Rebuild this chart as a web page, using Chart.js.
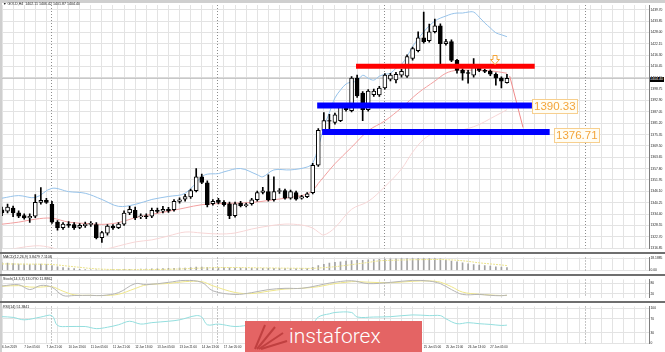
<!DOCTYPE html>
<html>
<head>
<meta charset="utf-8">
<script src="https://cdn.jsdelivr.net/npm/chart.js@4.4.0/dist/chart.umd.min.js"></script>
<style>
body{margin:0;width:665px;height:352px;background:#fff;position:relative;overflow:hidden;font-family:"Liberation Sans",Arial,sans-serif}
canvas{position:absolute;left:0}
.bar{position:absolute;background:#6f6f6f}
.txt{position:absolute;white-space:nowrap;color:#222;font-size:3.6px;line-height:4px}
.lvl{position:absolute;color:#f3a53a;background:#fffdf4;border:1px solid #f7cf8e;font-size:11.5px;line-height:13px;padding:0 1px}
</style>
</head>
<body>
<div class="bar" style="left:0;top:0;width:665px;height:3px;background:#cfcfcf"></div>
<div class="bar" style="left:0;top:0;width:2px;height:352px;background:#cfcfcf"></div>
<canvas id="main" width="665" height="252" style="top:0"></canvas>
<div class="bar" style="left:0;top:252px;width:665px;height:2px"></div>
<canvas id="macd" width="665" height="20" style="top:254px"></canvas>
<div class="bar" style="left:0;top:274px;width:665px;height:2px"></div>
<canvas id="stoch" width="665" height="25" style="top:276px"></canvas>
<div class="bar" style="left:0;top:301px;width:665px;height:2px"></div>
<canvas id="rsi" width="665" height="49" style="top:303px"></canvas>

<div class="txt" style="left:3px;top:2px">&#9660; GOLD,H4 &nbsp;1402.11 1406.42 1401.87 1404.40</div>
<div class="txt" style="left:3px;top:255px">MACD(12,26,9) 3.8479 7.1108</div>
<div class="txt" style="left:3px;top:277px">Stoch(14,3,3) 13.0790 11.8862</div>
<div class="txt" style="left:3px;top:305px">RSI(14) 51.3841</div>
<div class="txt" style="left:650px;top:77px;width:14px;height:5px;background:#000;color:#fff;line-height:5px">1404.40</div>

<div class="lvl" style="left:532px;top:99px">1390.33</div>
<div class="lvl" style="left:554px;top:128px">1376.71</div>
<svg width="10" height="10" style="position:absolute;left:490px;top:55px">
  <path d="M3 0.5 H7 V4.5 H9.5 L5 9.5 L0.5 4.5 H3 Z" fill="#fff" stroke="#f3a53a" stroke-width="1"/>
</svg>

<div style="position:absolute;left:245px;top:321px;width:177px;height:31px;background:#e46464">
  <svg width="40" height="31" style="position:absolute;left:6px;top:0">
    <g stroke="#c04040" stroke-width="2">
      <line x1="4" y1="28" x2="14" y2="4"/><line x1="6" y1="28" x2="24" y2="6"/><line x1="8" y1="28" x2="32" y2="12"/><line x1="10" y1="28" x2="36" y2="20"/>
    </g>
  </svg>
  <div style="position:absolute;left:44px;top:2px;color:#fff;font-family:Roboto,'Open Sans',sans-serif;font-weight:300;font-size:21px;line-height:26px">instaforex</div>
</div>

<script>
// GOLD H4, 6 Jun 2019 13:00 -> 27 Jun 2019 (bar index 0..91)
const opens  = [1336.5,1335.8,1337.5,1335.0,1333.6,1332.4,1333.3,1340.4,1341.4,1339.4,1330.2,1327.3,1329.2,1329.0,1327.5,1328.4,1329.0,1329.0,1322.2,1324.5,1328.2,1327.3,1329.2,1334.9,1336.3,1333.0,1333.4,1333.3,1336.3,1335.8,1336.8,1336.6,1340.9,1342.0,1343.2,1346.5,1353.6,1350.5,1339.7,1341.4,1340.4,1339.7,1333.6,1340.0,1338.7,1339.7,1341.75,1345.5,1346.0,1341.75,1346.0,1346.5,1342.6,1345.5,1342.6,1343.4,1345.45,1359.55,1377.5,1382.6,1381.6,1382.6,1390.2,1387.7,1404.45,1396.8,1388.2,1396.0,1395.8,1399.4,1404.0,1403.5,1406.0,1405.5,1414.6,1418.7,1425.3,1423.8,1428.4,1431.4,1422.3,1423.3,1413.6,1408.5,1407.4,1406.0,1410.55,1408.5,1408.0,1406.5,1404.45,1402.11];
const highs  = [1338.0,1339.5,1338.5,1336.0,1334.5,1334.5,1344.4,1348.0,1342.5,1341.0,1331.0,1330.0,1330.5,1330.0,1329.5,1330.3,1330.5,1330.0,1325.5,1329.0,1329.0,1330.0,1336.0,1338.3,1338.0,1334.5,1334.5,1337.5,1337.5,1338.3,1337.8,1341.8,1342.8,1344.5,1347.3,1357.8,1355.0,1351.5,1341.8,1342.5,1341.3,1340.5,1340.5,1341.0,1340.0,1342.5,1346.2,1348.1,1354.6,1353.6,1347.5,1347.2,1346.8,1346.2,1344.0,1345.5,1360.5,1378.5,1386.7,1385.8,1386.5,1391.0,1391.0,1405.3,1406.1,1397.5,1398.6,1398.8,1400.3,1406.8,1407.0,1407.5,1409.0,1416.5,1420.5,1428.4,1438.5,1432.4,1435.0,1432.5,1424.5,1424.2,1414.2,1409.3,1408.5,1414.6,1411.3,1409.0,1408.8,1407.2,1405.2,1406.42];
const lows   = [1333.5,1335.0,1333.0,1332.5,1331.8,1330.0,1332.5,1339.5,1339.8,1329.5,1326.0,1326.5,1327.5,1326.5,1326.8,1327.5,1328.0,1321.5,1319.7,1323.5,1326.5,1326.8,1328.5,1334.0,1331.5,1332.0,1332.0,1332.5,1335.0,1335.0,1335.2,1335.8,1340.0,1341.0,1342.5,1345.8,1350.0,1338.0,1339.0,1339.6,1338.5,1332.0,1332.8,1338.0,1338.0,1339.0,1341.0,1344.8,1341.0,1341.0,1345.0,1342.0,1342.0,1341.5,1342.0,1342.8,1344.8,1359.0,1376.5,1378.2,1380.8,1382.0,1387.5,1387.0,1394.5,1382.6,1387.5,1395.0,1395.0,1398.8,1403.0,1402.0,1405.0,1404.8,1413.8,1418.0,1422.5,1423.0,1427.8,1410.6,1421.5,1413.0,1407.0,1403.4,1401.9,1405.0,1407.8,1407.3,1405.8,1400.9,1399.4,1401.87];
const closes = [1335.0,1338.0,1335.0,1333.3,1332.4,1333.2,1340.4,1341.5,1340.4,1330.2,1327.3,1329.2,1328.5,1327.3,1328.5,1329.2,1329.6,1322.2,1324.8,1328.2,1327.2,1329.2,1334.9,1336.8,1332.4,1333.4,1333.0,1336.3,1335.7,1336.8,1336.0,1340.9,1341.7,1343.4,1346.5,1353.6,1350.7,1339.2,1340.9,1340.4,1339.2,1333.6,1339.7,1338.7,1339.2,1341.75,1345.45,1346.3,1341.75,1346.0,1346.5,1342.6,1346.0,1342.1,1343.4,1344.8,1359.55,1377.5,1382.6,1382.3,1385.6,1390.2,1388.2,1404.45,1395.3,1388.2,1397.85,1397.85,1399.4,1406.0,1406.0,1406.5,1408.0,1415.65,1419.7,1425.3,1423.3,1428.4,1431.4,1422.25,1423.3,1413.6,1408.5,1407.0,1406.9,1410.55,1408.5,1408.0,1406.5,1404.45,1402.9,1404.40];

// Bollinger bands (20,2)
const bbUpperX = [0,3,6,9,12,15,18,21,24,27,30,33,36,37,39,40,43,46,47,49,52,55,56,57,58,59,60,61,62,63,64,65,66,67,68,69,70,71,72,73,74,75,76,77,78,79,80,81,82,83,84,85,86,87,88,89,90,91];
const bbUpper  = [1342.55,1343.9,1342.9,1347.65,1345.95,1345.1,1341.9,1338.35,1339.35,1341.9,1343.45,1345.1,1353.6,1354.95,1355.25,1356.15,1357.85,1354.65,1353.6,1357.15,1357.15,1358.65,1360.75,1368.85,1379.05,1386.65,1394.25,1398.35,1401.45,1402.45,1402.95,1405.95,1404.45,1403.45,1405.45,1406.45,1407.0,1409.55,1411.55,1415.65,1420.75,1424.8,1428.35,1431.45,1433.95,1435.45,1436.5,1437.55,1438.05,1438.05,1438.55,1438.55,1435.95,1432.95,1430.4,1427.85,1426.85,1425.85];
const bbMidX   = [0,3,6,9,12,15,18,21,24,27,30,33,36,39,42,45,48,51,54,55,56,57,58,60,63,66,69,72,75,78,80,82,85,88,91];
const bbMid    = [1329.15,1330.2,1331.75,1332.25,1330.2,1329.55,1329.05,1329.95,1332.5,1334.25,1335.8,1337.55,1339.2,1339.75,1340.0,1340.35,1341.35,1342.55,1343.95,1344.8,1346.45,1350.15,1353.6,1360.35,1368.85,1377.35,1382.45,1389.2,1396.85,1402.95,1407.0,1408.55,1408.55,1408.3,1407.0];
const bbLowerX = [0,6,9,12,18,24,27,30,33,36,39,42,45,48,51,54,56,57,58,60,63,66,69,72,74,76,78,80,82,84,86,88,90,91];
const bbLower  = [1315.45,1318.0,1317.0,1314.4,1315.95,1320.0,1321.05,1323.1,1325.1,1324.6,1324.1,1324.6,1326.65,1328.2,1329.2,1328.7,1327.15,1325.1,1323.6,1327.35,1336.85,1340.9,1348.5,1357.65,1366.3,1372.95,1376.45,1378.05,1377.5,1378.5,1380.55,1383.6,1386.65,1388.2];

// drawn levels: price, first bar, last bar
const levelPrice = [1410.55, 1390.33, 1376.71];
const levelFrom  = [63.8, 56.8, 57.7];
const levelTo    = [96.0, 95.5, 98.7];
const levelColor = ['#ff0000', '#0000ff', '#0000ff'];
const levelWidth = [5, 6, 6];
const trendX = [91.5, 93.9];
const trendY = [1405.5, 1379.0];
const lastPrice = 1404.40;

// MACD(12,26,9)
const macdMain = [11.2,10.8,10.0,9.5,9.2,8.7,9.2,9.2,8.7,7.0,5.4,4.2,3.2,2.6,1.6,1.0,0.8,0.6,0.5,0.6,0.7,0.8,1.0,1.3,1.6,1.8,2.0,2.2,2.4,2.6,2.8,3.0,3.2,3.4,4.2,4.8,5.0,4.6,4.4,4.2,4.0,3.6,3.4,3.2,3.0,3.0,3.1,3.1,3.0,3.0,3.0,2.8,2.8,2.6,2.5,2.6,4.5,7.0,9.0,11.0,11.8,12.8,13.8,14.4,15.0,15.0,15.7,16.0,16.3,16.6,17.0,17.3,17.4,17.5,17.6,17.6,17.6,17.6,17.6,17.0,15.0,13.8,12.8,11.2,9.6,8.6,7.7,7.0,6.4,5.4,4.8,4.2];
const macdSigX = [0,4,8,10,12,14,16,18,20,24,28,32,36,40,44,48,52,56,58,60,62,64,66,68,70,72,74,76,78,80,82,84,86,88,90,91];
const macdSig  = [9.6,9.3,9.0,8.0,6.2,4.5,2.8,1.8,1.2,1.0,1.3,2.0,3.4,4.2,4.0,3.5,3.2,3.0,4.0,5.4,7.4,9.6,11.8,14.2,14.9,15.4,15.8,16.0,16.2,15.9,15.0,13.4,11.2,9.6,8.0,7.1];

// Stochastic(14,3,3)
const stochX   = [0,3,5,7,9,11,13,16,18,21,24,26,30,33,36,38,42,45,48,51,54,57,59,63,66,70,74,77,79,81,83,86,88,90,91];
const stochK   = [64,71,44,67,57,11,11,12,11,27,77,71,84,95,84,37,17,27,44,51,51,67,80,93,77,84,95,91,77,44,17,17,12,10,13];
const stochD   = [62,66,58,58,60,35,15,12,11,18,50,70,78,88,88,65,28,22,35,47,51,60,72,88,85,82,90,92,85,60,30,18,14,11,12];

// RSI(14)
const rsiX = [0,2,4,7,9,10,12,15,17,19,21,23,25,27,30,32,35,36,37,39,42,45,48,51,54,56,57,58,59,60,63,64,67,70,74,77,79,80,82,84,86,88,90,91];
const rsiV = [76,74,67,75,79,51,48,48,42,46,53,63,55,59,63,67,79,75,53,55,48,53,56,55,53,58,75,81,84,88,88,75,75,76,81,79,79,70,56,59,56,54,51,52];

const priceTicks = [1316.85,1322.70,1328.55,1334.40,1340.25,1346.10,1351.95,1357.80,1363.65,1369.50,1375.35,1381.20,1387.05,1392.90,1398.75,1404.60,1410.45,1416.30,1422.15,1428.00,1433.85,1439.70];
const timeLabels = ['6 Jun 2019','7 Jun 05:00','7 Jun 21:00','10 Jun 13:00','11 Jun 05:00','11 Jun 21:00','12 Jun 13:00','13 Jun 05:00','13 Jun 21:00','14 Jun 13:00','17 Jun 05:00','17 Jun 21:00','18 Jun 13:00','19 Jun 05:00','19 Jun 21:00','20 Jun 13:00','21 Jun 05:00','21 Jun 21:00','24 Jun 13:00','25 Jun 05:00','25 Jun 21:00','26 Jun 13:00','27 Jun 05:00'];
const weekStarts = [8.8, 38.8, 68.8, 105];

const X_MIN = 0, X_MAX = 116.6;
const GRID = '#e3e3e3';
const FONT = 'Liberation Sans';
const AXW = 16;

const pts = (xs, ys) => xs.map((x, i) => ({x: x, y: ys[i]}));
const idx = opens.map((o, i) => i);

const periodLines = {
  id: 'periodLines',
  beforeDatasetsDraw(chart) {
    const {ctx, chartArea: a, scales: {x}} = chart;
    ctx.save();
    ctx.strokeStyle = '#8c8c8c';
    ctx.setLineDash([1, 2]);
    ctx.lineWidth = 1;
    weekStarts.forEach(b => {
      const px = Math.round(x.getPixelForValue(b)) + 0.5;
      ctx.beginPath(); ctx.moveTo(px, a.top); ctx.lineTo(px, a.bottom); ctx.stroke();
    });
    ctx.restore();
  }
};

function xAxis(labels) {
  return {
    type: 'linear', min: X_MIN, max: X_MAX, offset: false,
    grid: {color: GRID, offset: false, drawTicks: false},
    border: {display: false},
    afterBuildTicks: s => {
      const t = [];
      for (let v = 0; v < X_MAX; v += 2) t.push({value: v});
      s.ticks = t;
    },
    ticks: labels ? {
      display: true, autoSkip: false, maxRotation: 0, minRotation: 0, align: 'start', padding: 2,
      font: {size: 3, family: FONT}, color: '#222',
      callback: v => (v % 4 === 0 && timeLabels[v / 4]) ? timeLabels[v / 4] : ''
    } : {display: false}
  };
}

function yAxis(min, max, ticks, fmt) {
  return {
    position: 'right', min: min, max: max,
    afterFit: s => { s.width = AXW; },
    afterBuildTicks: s => { s.ticks = ticks.map(v => ({value: v})); },
    grid: {color: GRID, drawTicks: false},
    border: {display: true, color: '#7d7d7d'},
    ticks: {font: {size: 3.3, family: FONT}, color: '#222', padding: 1.5, callback: fmt}
  };
}

function base(datasets, scales, pad) {
  return {
    data: {datasets: datasets},
    options: {
      responsive: false, animation: false, events: [],
      layout: {padding: pad},
      plugins: {legend: {display: false}, tooltip: {enabled: false}},
      scales: scales
    },
    plugins: [periodLines]
  };
}

const line = (data, color, w, extra) => Object.assign({
  type: 'line', data: data, borderColor: color, borderWidth: w,
  pointRadius: 0, fill: false, tension: 0.35
}, extra || {});

// main price chart
new Chart(document.getElementById('main'), Object.assign({type: 'bar'}, base([
  line(pts(bbUpperX, bbUpper), '#97c3ea', 1, {order: 5}),
  line(pts(bbMidX, bbMid), '#f2a0a0', 1, {order: 5}),
  line(pts(bbLowerX, bbLower), '#f7d6d6', 1, {order: 5}),
  line([{x: X_MIN, y: lastPrice}, {x: X_MAX, y: lastPrice}], '#b9b9b9', 1, {order: 6, tension: 0}),
  {type: 'bar', data: idx.map(i => ({x: i, y: [lows[i], highs[i]]})), backgroundColor: '#000',
   barThickness: 1, grouped: false, order: 3},
  {type: 'bar', data: idx.map(i => ({x: i, y: [Math.min(opens[i], closes[i]), Math.max(opens[i], closes[i])]})),
   backgroundColor: idx.map(i => closes[i] >= opens[i] ? '#fff' : '#000'),
   borderColor: '#000', borderWidth: 1, borderSkipped: false, barThickness: 4, grouped: false, order: 2},
  ...levelPrice.map((p, k) => line([{x: levelFrom[k], y: p}, {x: levelTo[k], y: p}], levelColor[k], levelWidth[k],
    {order: 1, tension: 0, borderCapStyle: 'butt'})),
  line(pts(trendX, trendY), '#f08a8a', 1, {order: 1, tension: 0})
], {
  x: xAxis(false),
  y: yAxis(1316.6, 1442.2, priceTicks, v => v.toFixed(2))
}, {left: 2, top: 5})));

// MACD
new Chart(document.getElementById('macd'), Object.assign({type: 'bar'}, base([
  {type: 'bar', data: idx.map(i => ({x: i, y: macdMain[i]})), backgroundColor: '#a3a3a3', barThickness: 1, grouped: false, order: 2},
  line(pts(macdSigX, macdSig), '#ece48c', 1, {order: 1, borderDash: [2, 1]})
], {
  x: xAxis(false),
  y: yAxis(-0.3, 19.2, [0, 18.1885], v => v === 0 ? '0.00' : v.toFixed(4))
}, {left: 2})));

// Stochastic
new Chart(document.getElementById('stoch'), Object.assign({type: 'line'}, base([
  line(pts(stochX, stochK), '#b5b5b5', 1),
  line(pts(stochX, stochD), '#efe68a', 1)
], {
  x: xAxis(false),
  y: yAxis(0, 100, [20, 80], v => String(v))
}, {left: 2})));

// RSI
new Chart(document.getElementById('rsi'), Object.assign({type: 'line'}, base([
  line(pts(rsiX, rsiV), '#93dede', 1)
], {
  x: xAxis(true),
  y: yAxis(0, 105, [0, 30, 70, 100], v => String(v))
}, {left: 2, bottom: 1})));
</script>
</body>
</html>
